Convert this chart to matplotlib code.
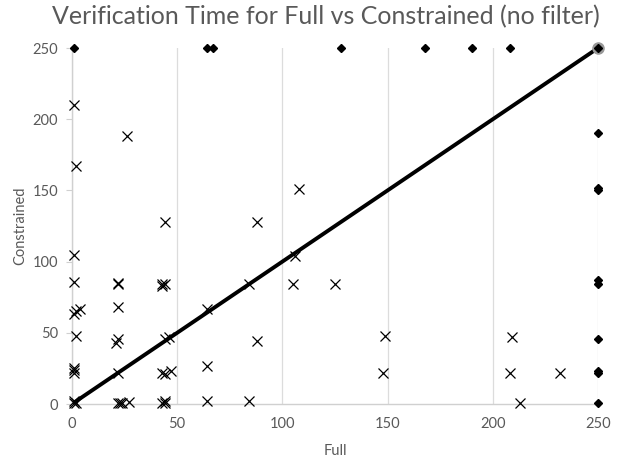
import matplotlib.pyplot as plt

plt.rcParams['font.family'] = ['Lato', 'DejaVu Sans']

# finished runs (Full time, Constrained time)
full_x = [1, 26, 2, 44, 1, 1, 22, 22, 43, 43, 44, 1, 2, 4, 22, 2, 22, 21, 44, 46,
          1, 1, 1, 22, 43, 44, 47, 1, 1, 2, 22, 23, 24, 27, 43, 44, 44,
          88, 106, 84, 105, 125, 64, 88, 64, 64, 84, 108, 149, 148, 209, 208, 232, 213]
constr_y = [210, 188, 167, 128, 105, 86, 84, 85, 84, 83, 84, 63, 65, 67, 68, 48, 46, 43, 46, 47,
            22, 24, 25, 22, 22, 21, 23, 1, 2, 1, 1, 1, 1, 1.5, 1, 2, 1,
            128, 104, 84, 84, 84, 67, 44, 27, 2, 2, 151, 48, 22, 47, 22, 22, 1]

# timeouts (capped at 250)
to_x = [1, 64, 67, 128, 168, 190, 208, 250, 250, 250, 250, 250, 250, 250, 250, 250, 250]
to_y = [250, 250, 250, 250, 250, 250, 250, 250, 190, 152, 150, 87, 84, 46, 23, 22, 1]

fig = plt.figure(figsize=(6.2, 4.62), dpi=100)
ax = fig.add_axes([0.116, 0.1255, 0.8485, 0.7705])

grey = '#595959'
ax.set_xlim(0, 250)
ax.set_ylim(0, 250)
ax.set_xticks([0, 50, 100, 150, 200, 250])
ax.set_yticks([0, 50, 100, 150, 200, 250])
ax.grid(axis='x', color='#dcdcdc', linewidth=0.9)
ax.set_axisbelow(True)
for s in ['top', 'right']:
    ax.spines[s].set_visible(False)
for s in ['left', 'bottom']:
    ax.spines[s].set_color('#d0d0d0')
    ax.spines[s].set_linewidth(1)
ax.tick_params(axis='y', colors='#d0d0d0', labelcolor=grey, labelsize=10.5, length=4, pad=6)
ax.tick_params(axis='x', length=0, labelcolor=grey, labelsize=10.5, pad=9)

ax.plot([0, 250], [0, 250], color='black', linewidth=2.8, zorder=2)
ax.plot(full_x, constr_y, 'x', color='black', markersize=7, markeredgewidth=0.9, zorder=3, clip_on=False)
ax.plot([250], [250], 'o', color='#999999', markersize=8, zorder=3, clip_on=False)
ax.plot(to_x, to_y, 'D', color='black', markersize=4, zorder=4, clip_on=False)

ax.set_xlabel('Full', color=grey, fontsize=10.5, labelpad=10)
ax.set_ylabel('Constrained', color=grey, fontsize=10.5, labelpad=4)
fig.suptitle('Verification Time for Full vs Constrained (no filter)', color=grey,
             fontsize=18, x=0.526, y=0.99)

fig.savefig('out.png', dpi=100)
